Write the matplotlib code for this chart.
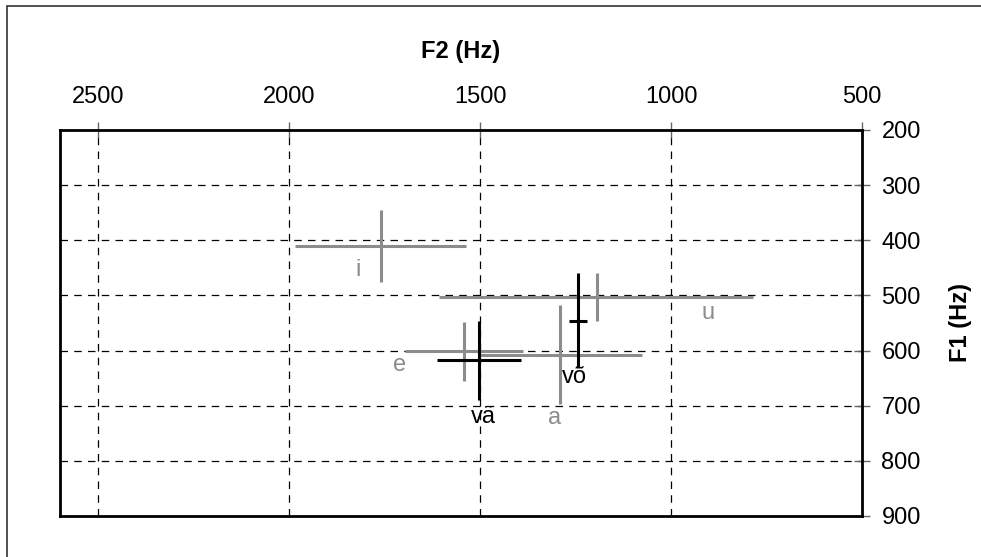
import matplotlib
matplotlib.use("Agg")
import matplotlib.pyplot as plt
from matplotlib.patches import Rectangle

plt.rcParams['font.family'] = ['Liberation Sans', 'DejaVu Sans']

vowels = ['i', 'u', 'e', 'a', 'vä', 'võ']
f2_mean = [1760, 1194, 1542, 1291, 1503, 1244]
f2_low = [1985, 1608, 1697, 1500, 1613, 1267]
f2_high = [1537, 785, 1388, 1076, 1393, 1220]
f1_mean = [410, 503, 601, 608, 617, 546]
f1_low = [345, 459, 548, 517, 546, 459]
f1_high = [475, 546, 655, 697, 690, 632]
label_f2 = [1820, 903, 1712, 1304, 1490, 1254]
label_f1 = [454, 532, 626, 722, 720, 648]
colors = ['#8c8c8c', '#8c8c8c', '#8c8c8c', '#8c8c8c', 'black', 'black']

x_ticks = [2500, 2000, 1500, 1000, 500]
y_ticks = [200, 300, 400, 500, 600, 700, 800, 900]

fig = plt.figure(figsize=(9.81, 5.57), dpi=100)
ax = fig.add_axes([60/981, 1-516/557, (862-60)/981, (516-130)/557])

ax.set_xlim(2600, 500)
ax.set_ylim(900, 200)

for xv in x_ticks[:-1]:
    ax.axvline(xv, color='black', lw=0.9, ls=(0, (6, 5)), zorder=1)
for yv in y_ticks[1:-1]:
    ax.axhline(yv, color='black', lw=0.9, ls=(0, (6, 5)), zorder=1)

for i, v in enumerate(vowels):
    c = colors[i]
    z = 3 if c == 'black' else 2
    ax.plot([f2_low[i], f2_high[i]], [f1_mean[i], f1_mean[i]], color=c, lw=2.2,
            solid_capstyle='butt', zorder=z)
    ax.plot([f2_mean[i], f2_mean[i]], [f1_low[i], f1_high[i]], color=c, lw=2.2,
            solid_capstyle='butt', zorder=z)
    ax.text(label_f2[i], label_f1[i], v, color=c, fontsize=17,
            ha='center', va='center', zorder=4)

ax.xaxis.tick_top()
ax.yaxis.tick_right()
ax.set_xticks(x_ticks)
ax.set_yticks(y_ticks)
ax.set_xticklabels([str(t) for t in x_ticks])
ax.set_yticklabels([str(t) for t in y_ticks])
ax.tick_params(axis='x', direction='inout', length=12, width=1, color='#666666',
               labelsize=17, pad=10)
ax.tick_params(axis='y', direction='inout', length=12, width=1, color='#666666',
               labelsize=17, pad=8)
ax.xaxis.set_label_position('top')
ax.yaxis.set_label_position('right')
ax.set_xlabel('F2 (Hz)', fontsize=17, fontweight='bold', labelpad=20)
ax.set_ylabel('F1 (Hz)', fontsize=17, fontweight='bold', labelpad=20)

for s in ax.spines.values():
    s.set_linewidth(2)
    s.set_color('black')

fig.add_artist(Rectangle((7/981, -0.2), 1.5, 0.2 + 1 - 6/557, transform=fig.transFigure,
                         fill=False, edgecolor='#333333', lw=1.2, clip_on=False))

fig.savefig('out.png', dpi=100)
